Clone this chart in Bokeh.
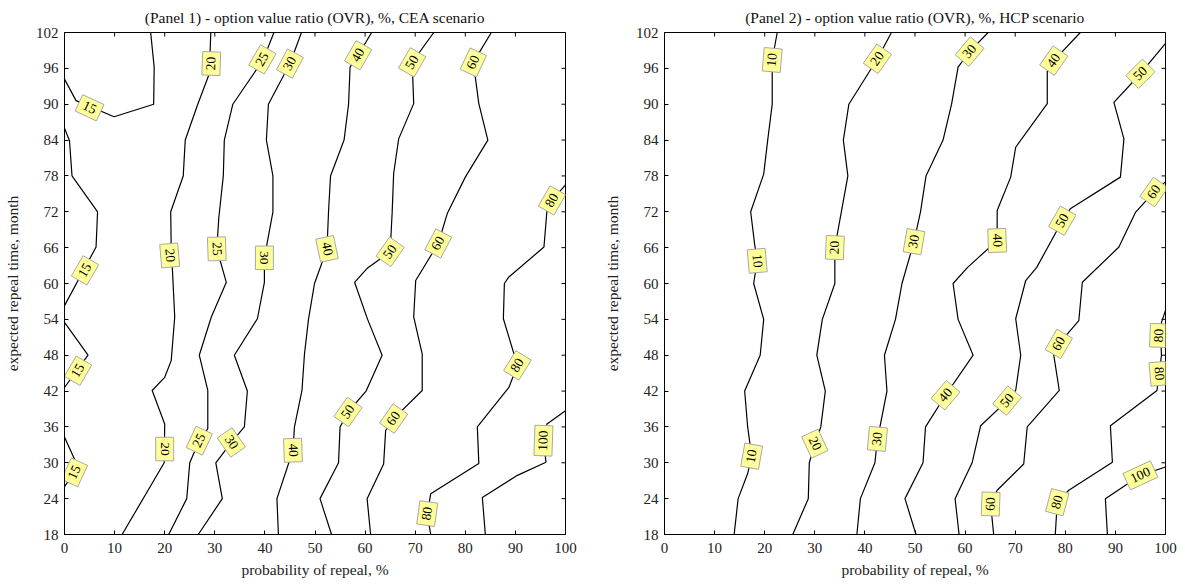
from bokeh.plotting import figure
from bokeh.models import ColumnDataSource, FixedTicker, Range1d
from bokeh.layouts import row
from bokeh.embed import file_html
from bokeh.resources import INLINE
from bokeh.core.properties import value

# ---------------- data ----------------
X_TICKS = [0, 10, 20, 30, 40, 50, 60, 70, 80, 90, 100]
Y_TICKS = [18, 24, 30, 36, 42, 48, 54, 60, 66, 72, 78, 84, 90, 96, 102]
X_LABEL = "probability of repeal, %"
Y_LABEL = "expected repeal time, month"
TITLE_1 = "(Panel 1) - option value ratio (OVR), %, CEA scenario"
TITLE_2 = "(Panel 2) - option value ratio (OVR), %, HCP scenario"

# Panel 1 (CEA) contour lines
P1_15A_X = [0, 2.3, 9.9, 17.8, 17.9, 17.2]
P1_15A_Y = [94.2, 90.6, 87.9, 90.0, 96.2, 102]
P1_15B_X = [0, 1.0, 1.5, 6.6, 6.3, 0]
P1_15B_Y = [86.0, 83.9, 78.0, 72.0, 66.1, 56.3]
P1_15C_X = [0, 4.7, 0]
P1_15C_Y = [53.5, 48.0, 42.6]
P1_15D_X = [0, 2.7, 0]
P1_15D_Y = [34.3, 29.3, 26.0]
P1_20_X = [29.2, 28.9, 26.6, 24.1, 23.7, 21.2, 21.3, 21.6, 22.0, 21.3, 20.0, 17.5, 20.0, 19.9, 11.5]
P1_20_Y = [102, 95.1, 90, 84, 78, 72, 66, 61.3, 54.4, 47.1, 44.3, 42.1, 36.5, 30, 18]
P1_25_X = [41.8, 39.7, 33.6, 31.9, 31.7, 30.8, 30.4, 32.3, 29.3, 26.9, 28.6, 28.6, 26.9, 25.0, 24.4, 20.8]
P1_25_Y = [102, 97.5, 90, 84, 78, 71, 65.8, 60.2, 54.4, 48, 42.1, 35.7, 33.7, 30, 24, 18]
P1_30_X = [47.3, 45.0, 40.7, 40.3, 41.6, 41.6, 39.9, 39.9, 38.5, 33.9, 36.5, 35.9, 33.3, 30.2, 31.5, 26.7]
P1_30_Y = [102, 96.8, 90, 84, 78, 72, 64.3, 60.2, 54.1, 48, 42, 36, 33.4, 30, 24, 18]
P1_40_X = [61.3, 58.6, 57.0, 56.7, 55.8, 53.1, 52.7, 52.4, 49.9, 48.7, 47.9, 47.4, 45.9, 45.6, 42.4, 42.7]
P1_40_Y = [102, 98.2, 96.2, 90, 84, 78, 72, 65.8, 60, 54, 48.2, 42.1, 36, 32.1, 24, 18]
P1_50_X = [73.7, 69.4, 69.7, 66.7, 65.7, 65.4, 65.0, 60.5, 57.9, 60.5, 63.4, 60.2, 56.6, 55.0, 54.7, 51.0, 53.3]
P1_50_Y = [102, 97.0, 90.1, 84.2, 78.4, 71.9, 65.3, 62.6, 60.2, 54, 48, 42, 38.5, 36, 30, 24, 18]
P1_60_X = [85.2, 81.6, 82.7, 84.5, 80.0, 76.4, 74.6, 70.1, 69.7, 71.4, 71.4, 65.7, 64.1, 63.7, 60.4, 61.1]
P1_60_Y = [102, 97.0, 90.1, 84, 77.8, 71.7, 66.7, 60.5, 54.4, 48.2, 42.1, 37.4, 35.4, 29.8, 24, 18]
P1_80_X = [100, 97.3, 96.3, 95.7, 88.7, 87.8, 87.6, 90.4, 88.7, 82.4, 82.7, 73.1, 72.4, 73.1]
P1_80_Y = [76.5, 73.9, 72.2, 66.1, 61.1, 60, 54.1, 46.3, 42.6, 36, 29.9, 24.8, 21.5, 18]
P1_100_X = [100, 96.3, 95.6, 96.1, 90.4, 83.4, 84.0]
P1_100_Y = [38.7, 36.5, 33.7, 30.1, 27.9, 24.2, 18]

P1_LABEL_TEXT = ["15", "20", "25", "30", "40", "50", "60", "80",
                 "15", "20", "25", "30", "40", "50", "60",
                 "15", "80", "50", "60",
                 "15", "20", "25", "30", "40", "100", "80"]
P1_LABEL_X = [5.0, 29.3, 39.5, 45.0, 58.6, 69.4, 81.6, 97.3,
              4.1, 21.0, 30.4, 39.9, 52.4, 65.0, 74.6,
              2.7, 90.4, 56.6, 65.7,
              2.0, 20.0, 26.9, 33.3, 45.6, 95.6, 72.4]
P1_LABEL_Y = [89.4, 96.8, 97.5, 96.8, 98.2, 97.0, 97.0, 73.9,
              62.2, 64.7, 65.8, 64.3, 65.8, 65.3, 66.7,
              45.4, 46.3, 38.5, 37.4,
              28.4, 32.3, 33.7, 33.4, 32.1, 33.7, 21.5]
P1_LABEL_ANGLE = [-25, 88, 60, 62, 60, 60, 65, 60,
                  60, -85, -88, -90, -78, 55, 62,
                  60, 58, 55, 55,
                  65, -90, 65, -55, -88, 88, 82]

# Panel 2 (HCP) contour lines
P2_10_X = [22.5, 21.5, 21.5, 20.6, 19.8, 17.2, 18.0, 18.5, 17.8, 19.8, 19.1, 16.0, 16.6, 17.4, 16.6, 14.7, 13.9]
P2_10_Y = [102, 97.4, 90, 84, 78.3, 72, 66.5, 63.8, 60, 54, 48, 42, 36, 31.1, 28.2, 24, 18]
P2_20_X = [45.3, 42.5, 36.8, 35.7, 36.6, 35.3, 34.0, 34.0, 31.5, 30.4, 32.1, 31.2, 30.0, 28.9, 28.7, 25.6]
P2_20_Y = [102, 97.6, 90, 84, 78, 72, 66, 60, 54, 48, 42, 36, 33.2, 30, 24, 18]
P2_30_X = [64.6, 60.9, 58.6, 57.3, 55.6, 52.2, 51.1, 49.8, 47.4, 46.1, 43.9, 44.4, 43.0, 42.5, 42.0, 39.1, 38.4]
P2_30_Y = [102, 98.8, 96.2, 90, 84, 78, 72, 67, 60, 54, 48, 42, 36, 34, 30, 24, 18]
P2_40_X = [83.0, 77.7, 76.4, 76.4, 70.1, 69.1, 66.4, 66.4, 60.5, 57.6, 58.6, 61.6, 56.1, 52.1, 51.6, 48.0, 50.2]
P2_40_Y = [102, 97.3, 95.5, 90.1, 82.8, 77.8, 72.2, 67.2, 62.7, 60, 54, 48, 41.3, 36, 30, 24, 18]
P2_50_X = [100, 95.0, 89.7, 91.7, 91.0, 81.0, 79.4, 74.3, 72.1, 70.1, 71.1, 70.1, 68.4, 63.1, 61.4, 58.0, 58.8]
P2_50_Y = [100.2, 95.1, 90.3, 84.2, 77.8, 72.5, 70.5, 62.7, 60.5, 54.1, 48, 42.1, 40.4, 36.2, 30, 24, 18]
P2_60_X = [100, 97.7, 94.0, 90.7, 83.4, 82.7, 78.7, 77.7, 78.8, 72.4, 71.7, 66.4, 65.1, 65.7]
P2_60_Y = [77.0, 75.3, 71.9, 66.1, 60.2, 53.8, 49.9, 48, 42.1, 36, 29.8, 25.4, 23.1, 18]
P2_80_X = [100, 99.2, 99.0, 99.2, 98.7, 98.3, 89.0, 89.4, 80.7, 78.4, 78.0]
P2_80_Y = [55.5, 53.5, 51.3, 48, 44.9, 42.1, 36.2, 30.1, 25.4, 23.4, 18]
P2_100_X = [100, 95.0, 88.0, 88.4]
P2_100_Y = [29.3, 27.9, 24.0, 18]

P2_LABEL_TEXT = ["10", "20", "30", "40", "50",
                 "60", "50", "40", "30", "20", "10",
                 "60", "80", "80", "40", "50",
                 "30", "20", "10", "60", "80", "100"]
P2_LABEL_X = [21.5, 42.5, 60.9, 77.7, 95.0,
              97.7, 79.4, 66.4, 49.8, 34.0, 18.5,
              78.7, 98.7, 98.7, 56.1, 68.4,
              42.5, 30.0, 17.4, 65.1, 78.4, 95.0]
P2_LABEL_Y = [97.4, 97.6, 98.8, 97.3, 95.1,
              75.3, 70.5, 67.2, 67.0, 66.0, 63.8,
              49.9, 51.3, 44.9, 41.3, 40.4,
              34.0, 33.2, 31.1, 23.1, 23.4, 27.9]
P2_LABEL_ANGLE = [85, 55, 50, 55, 45,
                  55, 60, -88, 80, 88, -85,
                  60, 88, -85, 50, 50,
                  85, -65, 80, 88, 75, 25]

P1_LINES = [(P1_15A_X, P1_15A_Y), (P1_15B_X, P1_15B_Y), (P1_15C_X, P1_15C_Y), (P1_15D_X, P1_15D_Y),
            (P1_20_X, P1_20_Y), (P1_25_X, P1_25_Y), (P1_30_X, P1_30_Y), (P1_40_X, P1_40_Y),
            (P1_50_X, P1_50_Y), (P1_60_X, P1_60_Y), (P1_80_X, P1_80_Y), (P1_100_X, P1_100_Y)]
P2_LINES = [(P2_10_X, P2_10_Y), (P2_20_X, P2_20_Y), (P2_30_X, P2_30_Y), (P2_40_X, P2_40_Y),
            (P2_50_X, P2_50_Y), (P2_60_X, P2_60_Y), (P2_80_X, P2_80_Y), (P2_100_X, P2_100_Y)]

FONT = "Liberation Serif"


def make_panel(title, lines, lab_text, lab_x, lab_y, lab_angle, width, border_right):
    p = figure(width=width, height=585, title=title,
               x_range=Range1d(0, 100), y_range=Range1d(18, 102),
               output_backend="svg", toolbar_location=None,
               min_border_left=64, min_border_right=border_right,
               min_border_top=32, min_border_bottom=51)
    p.grid.visible = False
    p.outline_line_color = "black"
    p.outline_line_width = 1
    p.background_fill_color = "white"
    p.border_fill_color = "white"

    p.title.align = "center"
    p.title.text_font = FONT
    p.title.text_font_style = "normal"
    p.title.text_font_size = "15.5px"
    p.title.text_color = "#111111"
    p.title.offset = 0
    p.title.standoff = 13

    for ax, ticks in ((p.xaxis, X_TICKS), (p.yaxis, Y_TICKS)):
        ax.ticker = FixedTicker(ticks=ticks)
        ax.major_tick_in = 4
        ax.major_tick_out = 0
        ax.minor_tick_line_color = None
        ax.axis_line_color = "black"
        ax.major_tick_line_color = "black"
        ax.major_label_text_font = FONT
        ax.major_label_text_font_size = "15px"
        ax.major_label_text_color = "#222222"
        ax.axis_label_text_font = FONT
        ax.axis_label_text_font_size = "15.5px"
        ax.axis_label_text_font_style = "normal"
        ax.axis_label_text_color = "#222222"
    p.xaxis.major_label_standoff = 8
    p.yaxis.major_label_standoff = 6
    p.xaxis.axis_label = X_LABEL
    p.yaxis.axis_label = Y_LABEL
    p.xaxis.axis_label_standoff = 5
    p.yaxis.axis_label_standoff = 12

    # inward ticks on the top and right frame edges (half of each dash is clipped by the frame)
    p.scatter(x=X_TICKS, y=[102] * len(X_TICKS), marker="dash", size=8, angle=90,
              angle_units="deg", line_color="black", line_width=1)
    p.scatter(x=[100] * len(Y_TICKS), y=Y_TICKS, marker="dash", size=8,
              line_color="black", line_width=1)

    src = ColumnDataSource(dict(xs=[l[0] for l in lines], ys=[l[1] for l in lines]))
    p.multi_line(xs="xs", ys="ys", source=src, line_color="black", line_width=1.2)

    lsrc = ColumnDataSource(dict(x=lab_x, y=lab_y, text=lab_text, angle=lab_angle))
    p.text(x="x", y="y", text="text", angle="angle", angle_units="deg", source=lsrc,
           text_align="center", text_baseline="middle",
           text_font=value(FONT), text_font_size="13.5px", text_color="black",
           background_fill_color="#ffff99", border_line_color="#a8a8a8",
           border_line_width=1, padding=5)
    return p


p1 = make_panel(TITLE_1, P1_LINES, P1_LABEL_TEXT, P1_LABEL_X, P1_LABEL_Y, P1_LABEL_ANGLE, 600, 35)
p2 = make_panel(TITLE_2, P2_LINES, P2_LABEL_TEXT, P2_LABEL_X, P2_LABEL_Y, P2_LABEL_ANGLE, 585, 20)

layout = row(p1, p2)
open("out.html", "w").write(file_html(layout, INLINE))
